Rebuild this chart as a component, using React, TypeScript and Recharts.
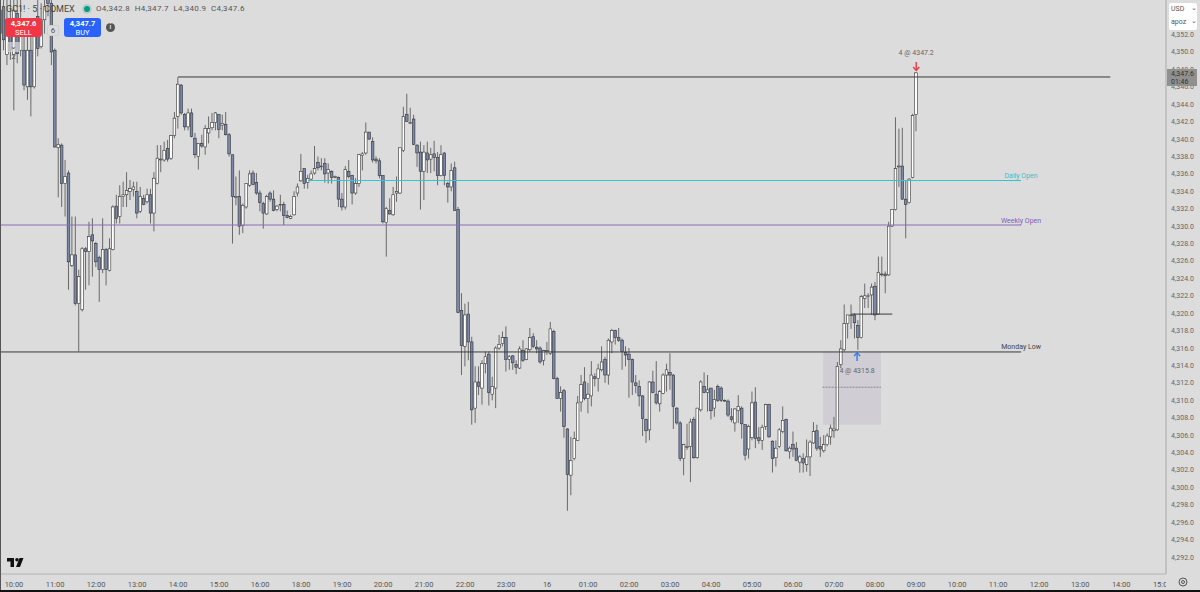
import React from "react";
import { ComposedChart, Bar, XAxis, YAxis, ReferenceLine, ReferenceArea, ReferenceDot } from "recharts";

const opens = [
4352.1,4355.2,4349.7,4353.7,4349.7,4354.4,4350.2,4350.2,4346.0,4350.2,
4346.0,4354.1,4350.6,4353.7,4356.2,4355.6,4350.2,4339.0,4339.3,4334.9,
4336.1,4325.5,4326.7,4321.1,4320.4,4327.4,4327.1,4329.0,4328.0,4326.4,
4325.0,4327.3,4324.9,4327.3,4332.3,4331.1,4333.4,4333.6,4334.0,4334.2,
4334.0,4331.7,4333.2,4332.8,4333.6,4331.5,4334.9,4337.6,4337.6,4338.9,
4337.8,4340.4,4342.6,4346.2,4342.8,4341.4,4343.0,4340.1,4338.0,4339.5,
4339.1,4340.7,4341.3,4341.9,4342.8,4341.6,4341.7,4340.5,4338.2,4333.3,
4333.4,4330.1,4332.2,4334.7,4336.1,4335.0,4333.8,4332.6,4331.4,4333.8,
4333.1,4331.9,4332.5,4332.5,4331.2,4330.9,4331.3,4333.8,4335.2,4336.6,
4335.0,4335.4,4336.1,4337.3,4336.9,4337.2,4336.1,4336.3,4335.7,4335.6,
4333.1,4332.2,4336.3,4335.8,4333.8,4334.9,4338.1,4338.4,4340.8,4339.7,
4337.7,4337.5,4335.8,4330.4,4331.8,4331.3,4333.8,4333.8,4338.7,4342.8,
4341.9,4342.3,4339.3,4338.5,4336.3,4338.4,4337.7,4338.3,4337.9,4335.8,
4338.4,4334.9,4334.5,4336.7,4331.9,4320.3,4316.2,4319.9,4316.7,4309.1,
4312.1,4311.4,4314.2,4315.3,4310.7,4311.4,4316.0,4316.5,4317.2,4314.7,
4315.1,4314.1,4313.7,4315.7,4314.7,4315.8,4317.3,4316.1,4316.0,4314.6,
4315.7,4315.4,4317.9,4312.5,4310.2,4311.1,4306.7,4301.4,4303.3,4305.4,
4309.8,4312.1,4310.2,4310.5,4312.7,4312.5,4313.5,4314.7,4312.9,4316.7,
4318.0,4317.2,4316.9,4315.5,4315.3,4314.7,4312.0,4311.6,4310.5,4307.8,
4306.6,4312.1,4310.7,4309.6,4310.8,4312.9,4313.2,4312.9,4309.1,4307.4,
4303.3,4304.6,4304.7,4307.8,4303.4,4308.9,4311.6,4310.9,4311.4,4309.1,
4311.6,4311.4,4310.0,4309.9,4308.1,4307.4,4308.8,4309.1,4307.2,4304.4,
4305.7,4309.8,4305.7,4305.4,4307.0,4309.5,4305.3,4303.4,4304.7,4306.4,
4307.8,4304.1,4304.9,4304.5,4302.9,4303.3,4302.6,4303.5,4305.1,4306.5,
4304.7,4304.2,4304.9,4305.8,4306.5,4306.6,4314.1,4315.8,4318.8,4319.8,
4319.8,4318.6,4317.2,4321.7,4322.0,4322.1,4323.1,4319.9,4324.5,4324.5,
4324.4,4330.0,4331.9,4336.8,4336.9,4333.1,4332.7,4335.6,4342.8];

const highs = [
4356.5,4357.0,4356.4,4356.8,4357.0,4356.0,4356.0,4353.7,4353.0,4352.1,
4353.7,4356.0,4355.6,4356.5,4357.5,4356.2,4350.4,4340.1,4339.5,4337.6,
4336.4,4331.1,4331.1,4325.0,4327.6,4327.6,4330.5,4330.9,4328.2,4326.6,
4330.9,4327.5,4328.6,4332.4,4333.6,4334.7,4335.1,4336.2,4335.3,4335.1,
4335.1,4334.5,4333.6,4334.3,4334.3,4336.2,4339.3,4339.3,4339.7,4339.9,
4340.5,4343.1,4347.1,4346.3,4343.0,4343.5,4343.5,4340.7,4339.5,4340.5,
4341.6,4342.6,4343.0,4343.1,4342.8,4342.8,4343.1,4340.7,4338.2,4335.7,
4336.4,4332.6,4334.9,4336.4,4336.4,4336.1,4334.1,4332.8,4333.6,4334.0,
4334.1,4332.4,4333.6,4332.8,4331.8,4331.3,4334.0,4334.9,4338.3,4336.6,
4335.9,4336.4,4339.2,4338.0,4337.8,4337.8,4337.2,4336.4,4335.8,4335.7,
4333.8,4336.9,4337.6,4335.9,4335.5,4338.3,4338.5,4341.9,4340.8,4340.2,
4338.0,4337.8,4335.8,4332.2,4333.2,4334.5,4335.7,4339.0,4343.7,4345.2,
4343.6,4342.8,4339.4,4339.7,4339.3,4339.7,4339.0,4339.8,4338.5,4339.3,
4338.5,4335.1,4337.2,4337.4,4332.2,4322.3,4321.1,4321.3,4317.3,4313.9,
4313.9,4314.6,4315.6,4315.6,4312.7,4316.2,4317.5,4317.9,4318.5,4315.2,
4315.2,4314.6,4316.2,4316.9,4316.0,4318.3,4317.7,4316.9,4316.2,4315.8,
4316.7,4319.0,4318.1,4312.7,4311.6,4311.3,4306.8,4305.8,4306.4,4310.5,
4312.9,4313.8,4312.0,4314.5,4313.1,4314.2,4316.2,4315.0,4317.1,4318.2,
4318.1,4318.3,4317.1,4316.2,4316.0,4314.8,4312.9,4312.3,4310.6,4307.9,
4312.2,4313.4,4314.5,4311.2,4313.1,4314.2,4315.4,4313.0,4309.2,4307.6,
4305.0,4307.3,4307.9,4308.1,4309.1,4312.3,4313.2,4312.9,4311.4,4311.2,
4311.8,4311.6,4310.1,4310.1,4309.1,4309.1,4310.6,4309.3,4307.2,4307.2,
4311.0,4311.5,4306.9,4307.2,4309.6,4309.6,4305.4,4305.4,4306.8,4309.3,
4307.9,4304.7,4306.4,4305.2,4303.7,4303.9,4305.5,4305.4,4307.5,4307.2,
4305.8,4306.0,4306.2,4307.2,4308.1,4314.4,4316.9,4321.0,4319.8,4321.0,
4320.0,4319.2,4322.1,4323.4,4322.3,4323.4,4323.6,4326.5,4326.5,4324.8,
4330.5,4331.9,4342.5,4341.2,4341.3,4335.3,4335.5,4342.9,4347.7];

const lows = [
4351.0,4350.2,4348.5,4349.1,4343.3,4348.7,4349.5,4345.6,4344.5,4342.6,
4345.8,4349.5,4350.4,4352.1,4354.1,4348.5,4339.0,4333.3,4332.2,4331.1,
4322.7,4325.3,4320.9,4315.6,4320.2,4322.7,4323.2,4324.2,4325.3,4321.3,
4324.6,4323.2,4324.8,4327.2,4330.3,4330.3,4332.2,4332.2,4333.0,4333.4,
4330.9,4331.5,4332.4,4332.6,4330.3,4329.4,4334.8,4336.2,4337.4,4337.4,
4337.6,4340.1,4341.2,4342.8,4341.0,4341.0,4340.2,4337.8,4336.5,4339.0,
4338.2,4339.5,4341.0,4341.0,4340.1,4341.0,4340.4,4338.0,4328.0,4332.4,
4329.0,4329.2,4332.0,4334.5,4334.7,4333.6,4331.7,4329.7,4331.3,4332.8,
4331.7,4331.7,4331.7,4330.1,4330.9,4330.8,4331.2,4333.4,4335.1,4334.3,
4334.3,4335.3,4335.9,4336.4,4336.4,4335.0,4334.9,4334.9,4335.5,4332.2,
4331.8,4331.9,4335.5,4332.5,4333.6,4334.5,4336.4,4338.2,4339.9,4337.3,
4337.2,4335.5,4330.3,4326.5,4331.3,4331.2,4332.8,4333.7,4338.5,4342.0,
4341.8,4339.3,4336.8,4331.9,4333.0,4336.1,4336.1,4336.3,4334.7,4335.7,
4334.7,4332.7,4334.0,4331.8,4320.0,4312.9,4313.9,4314.6,4307.2,4307.4,
4310.6,4309.5,4313.1,4309.4,4310.0,4309.1,4315.8,4316.2,4313.3,4313.5,
4313.5,4313.0,4313.6,4314.4,4314.6,4315.6,4316.0,4315.4,4314.2,4314.0,
4315.2,4315.2,4312.4,4310.2,4308.7,4305.7,4297.3,4299.1,4303.1,4305.4,
4308.7,4310.0,4308.5,4309.3,4311.6,4311.0,4313.3,4312.0,4311.8,4315.4,
4316.4,4316.7,4313.5,4313.9,4310.3,4310.6,4310.8,4309.3,4305.9,4305.1,
4305.4,4310.8,4309.5,4308.7,4310.7,4311.0,4311.2,4306.7,4307.2,4303.0,
4301.4,4304.3,4300.6,4303.3,4303.3,4308.7,4310.8,4308.7,4307.8,4308.1,
4309.8,4309.8,4309.8,4308.1,4307.5,4306.4,4307.4,4305.6,4303.1,4303.3,
4305.4,4304.5,4305.0,4304.3,4306.6,4305.7,4301.7,4302.4,4304.5,4306.2,
4304.1,4303.3,4303.5,4303.0,4301.7,4301.7,4301.8,4301.3,4305.0,4304.2,
4303.5,4304.0,4304.7,4304.9,4305.7,4306.5,4313.7,4315.6,4317.1,4318.2,
4317.1,4315.8,4317.1,4320.6,4320.6,4319.8,4319.2,4319.8,4324.2,4322.3,
4324.3,4329.9,4331.8,4334.5,4333.0,4328.6,4332.6,4335.5,4340.9];

const closes = [
4354.8,4351.4,4353.7,4350.2,4354.8,4349.8,4353.7,4346.2,4350.2,4346.0,
4352.9,4350.4,4353.7,4355.2,4355.6,4350.0,4339.1,4339.4,4334.9,4335.7,
4325.9,4326.7,4321.1,4324.2,4327.4,4327.1,4328.8,4328.3,4325.9,4325.0,
4327.3,4325.0,4327.4,4332.2,4330.9,4333.4,4333.6,4334.1,4334.3,4334.5,
4331.5,4333.4,4332.5,4333.6,4331.5,4335.5,4337.8,4337.7,4338.7,4337.7,
4340.4,4342.4,4346.3,4343.0,4341.4,4343.0,4340.3,4338.2,4339.5,4339.2,
4341.2,4341.2,4341.9,4343.0,4341.1,4341.8,4340.5,4338.3,4333.4,4333.4,
4330.0,4332.4,4334.9,4336.0,4334.8,4333.8,4332.7,4331.5,4333.4,4333.1,
4331.8,4332.3,4332.5,4331.2,4331.0,4331.1,4333.4,4334.5,4336.3,4334.9,
4335.5,4336.0,4336.6,4336.7,4336.9,4336.0,4336.5,4335.6,4335.7,4333.1,
4332.2,4336.5,4335.7,4333.8,4334.9,4338.2,4338.3,4340.8,4340.0,4337.6,
4337.5,4335.8,4330.5,4332.0,4331.4,4333.6,4334.0,4339.0,4342.6,4342.0,
4341.9,4339.4,4338.4,4336.3,4338.5,4337.6,4338.2,4337.9,4335.8,4338.2,
4335.8,4334.5,4336.4,4331.8,4320.1,4316.3,4319.8,4316.7,4308.9,4312.1,
4311.6,4314.2,4315.0,4310.9,4311.6,4316.0,4316.4,4317.2,4314.7,4315.0,
4314.3,4313.8,4315.9,4314.6,4315.9,4317.2,4316.2,4315.9,4314.4,4315.7,
4315.7,4318.2,4312.5,4310.2,4310.9,4307.0,4301.5,4303.1,4305.6,4309.7,
4311.8,4310.2,4310.7,4312.9,4312.5,4313.6,4314.4,4312.9,4316.9,4318.0,
4317.2,4316.9,4315.6,4315.2,4314.7,4312.1,4311.7,4310.5,4307.9,4306.5,
4312.1,4310.9,4309.7,4311.0,4312.9,4313.5,4312.9,4309.3,4307.4,4303.3,
4304.9,4304.7,4307.5,4303.4,4309.1,4312.1,4310.9,4311.2,4308.8,4310.1,
4310.0,4310.0,4310.0,4308.3,4307.8,4309.0,4309.3,4307.3,4303.7,4307.0,
4309.7,4305.6,4305.4,4306.9,4309.5,4305.8,4303.3,4304.5,4306.6,4307.7,
4304.2,4304.5,4304.4,4303.1,4303.5,4302.8,4303.5,4305.2,4306.4,4304.5,
4304.4,4304.9,4305.9,4306.8,4306.7,4313.9,4315.9,4318.8,4319.8,4319.8,
4318.9,4317.2,4321.9,4322.0,4322.0,4323.0,4319.8,4324.7,4324.5,4324.3,
4330.0,4331.9,4336.6,4336.9,4333.1,4332.5,4335.4,4342.7,4347.6];

const timeLabels = ["10:00","11:00","12:00","13:00","14:00","15:00","16:00","18:00","19:00","20:00","21:00","22:00","23:00","16","01:00","02:00","03:00","04:00","05:00","06:00","07:00","08:00","09:00","10:00","11:00","12:00","13:00","14:00","15:00"];
const BARS_PER_LABEL = 12;
const timeTicks = timeLabels.map((_, i) => i * BARS_PER_LABEL);
const priceTicks = [4292,4294,4296,4298,4300,4302,4304,4306,4308,4310,4312,4314,4316,4318,4320,4322,4324,4326,4328,4330,4332,4334,4336,4338,4340,4342,4344,4346,4348,4350,4352];

const candles = opens.map((open, i) => ({ t: i - 4, open, high: highs[i], low: lows[i], close: closes[i], range: [lows[i], highs[i]] }));

const fmt = (v: number) => v.toLocaleString("en-US", { minimumFractionDigits: 1, maximumFractionDigits: 1 });
const FONT = "Roboto, 'Open Sans', sans-serif";

const Candle = (props: any) => {
  const { x, y, width, height, payload } = props;
  const top = Math.min(y, y + height);
  const h = Math.abs(height);
  const span = payload.high - payload.low || 1;
  const yOf = (p: number) => top + ((payload.high - p) / span) * h;
  const cx = x + width / 2;
  const up = payload.close >= payload.open;
  const by = yOf(Math.max(payload.open, payload.close));
  const bh = Math.max(Math.abs(yOf(payload.open) - yOf(payload.close)), 0.8);
  return (
    <g>
      <line x1={cx} x2={cx} y1={top} y2={top + h} stroke="#5c5c5c" strokeWidth={0.9} />
      <rect x={cx - 1.3} y={by} width={2.6} height={bh} fill={up ? "#ffffff" : "#7a88ab"} stroke="#333" strokeWidth={0.6} />
    </g>
  );
};

const XTick = (props: any) => {
  const { x, y, payload, index } = props;
  return (
    <g>
      <clipPath id={`xc${index}`}><rect x={0} y={570} width={1166} height={22} /></clipPath>
      <text x={x} y={y} textAnchor="middle" dominantBaseline="central" fontSize={7.5} fontFamily={FONT} fill="#555" clipPath={`url(#xc${index})`}>
        {timeLabels[payload.index ?? index]}
      </text>
    </g>
  );
};

const Note = (text: string, dy: number, fill: string) => (props: any) => (
  <text x={props.cx} y={props.cy + dy} textAnchor="middle" dominantBaseline="central" fontSize={7} fontFamily={FONT} fill={fill}>{text}</text>
);

const Arrow = (color: string, dir: 1 | -1) => (props: any) => {
  const { cx, cy } = props;
  return (
    <g stroke={color} strokeWidth={1.4} fill="none">
      <line x1={cx} x2={cx} y1={cy} y2={cy + dir * 8} />
      <polyline points={`${cx - 3},${cy + dir * 5} ${cx},${cy + dir * 8.5} ${cx + 3},${cy + dir * 5}`} />
    </g>
  );
};

const hl = (x1: number, x2: number, y: number) => [{ x: x1, y }, { x: x2, y }] as any;

export default function App() {
  return (
    <div style={{ position: "absolute", left: 0, top: 0, width: 1200, height: 592, background: "#dcdcdc", overflow: "hidden", fontFamily: FONT }}>
      <ComposedChart width={1200} height={592} data={candles} margin={{ top: 0, right: 0, bottom: 0, left: 0 }} barSize={3}>
        <XAxis dataKey="t" type="number" scale="linear" domain={[-4.1, 337.1]} ticks={timeTicks} interval={0} allowDataOverflow height={18} stroke="#b4b4b4" tickLine={false} tick={<XTick />} tickMargin={4} />
        <YAxis orientation="right" type="number" domain={[4290.05, 4355.97]} ticks={priceTicks} interval={0} allowDataOverflow width={34} stroke="#a8a8a8" tickLine={false} tickSize={0} tickMargin={5} tickFormatter={fmt} tick={{ fontSize: 7, fill: "#666", fontFamily: FONT }} />
        <ReferenceArea x1={236.8} x2={253.7} y1={4307.2} y2={4315.6} fill="#9a8fb4" fillOpacity={0.18} stroke="none" ifOverflow="visible" />
        <ReferenceLine segment={hl(236.6, 253.7, 4311.5)} stroke="#888" strokeDasharray="2 1" />
        <ReferenceLine segment={hl(-4.1, 294.7, 4315.55)} stroke="#3a3a3a" strokeWidth={1} />
        <ReferenceLine segment={hl(-4.1, 294.7, 4330.13)} stroke="#8a6cc0" strokeWidth={1} />
        <ReferenceLine segment={hl(86, 294.7, 4335.24)} stroke="#35c4d4" strokeWidth={1} />
        <ReferenceLine segment={hl(48, 320.8, 4347.13)} stroke="#3a3a3a" strokeWidth={1} />
        <ReferenceLine segment={hl(245, 257, 4319.9)} stroke="#3a3a3a" strokeWidth={1} />
        <Bar dataKey="range" shape={<Candle />} isAnimationActive={false} />
        <ReferenceDot x={264} y={4350} r={0} ifOverflow="visible" shape={Note("4 @ 4347.2", 1, "#666")} />
        <ReferenceDot x={264} y={4348.85} r={0} ifOverflow="visible" shape={Arrow("#f23645", 1)} />
        <ReferenceDot x={246.7} y={4314.5} r={0} ifOverflow="visible" shape={Arrow("#2e7bf0", -1)} />
        <ReferenceDot x={246.7} y={4313.35} r={0} ifOverflow="visible" shape={Note("4 @ 4315.8", 0, "#666")} />
        <ReferenceDot x={294.7} y={4335.24} r={0} ifOverflow="visible" shape={Note("Daily Open", -4.5, "#3cbccd")} />
        <ReferenceDot x={294.7} y={4330.13} r={0} ifOverflow="visible" shape={Note("Weekly Open", -4.5, "#7d5cc0")} />
        <ReferenceDot x={294.7} y={4315.55} r={0} ifOverflow="visible" shape={Note("Monday Low", -4.5, "#444")} />
      </ComposedChart>

      <div style={{ position: "absolute", left: 0, top: 0, width: 1, height: 590, background: "#555" }} />
      <div style={{ position: "absolute", left: 0, top: 590, width: 1200, height: 2, background: "#111" }} />

      <div style={{ position: "absolute", left: 6, top: 4, fontSize: 9, color: "#444", whiteSpace: "nowrap" }}>GC1! · 5 · COMEX</div>
      <div style={{ position: "absolute", left: 84, top: 6, width: 6, height: 6, borderRadius: 3, background: "#089981", boxShadow: "0 0 0 2px rgba(8,153,129,.18)" }} />
      <div style={{ position: "absolute", left: 96, top: 4, fontSize: 8, color: "#555", letterSpacing: 0.3, whiteSpace: "nowrap" }}>O4,342.8&nbsp; H4,347.7&nbsp; L4,340.9&nbsp; C4,347.6</div>
      <div style={{ position: "absolute", left: 5, top: 18, width: 37, height: 19, borderRadius: 3, background: "#f23645", color: "#fff", textAlign: "center", fontSize: 7.5, lineHeight: "9px", paddingTop: 1, boxSizing: "border-box" }}><b>4,347.6</b><br />SELL</div>
      <div style={{ position: "absolute", left: 47, top: 25, width: 12, height: 11, borderRadius: 2, border: "1px solid #cfcfcf", boxSizing: "border-box", background: "#dcdcdc", color: "#555", textAlign: "center", fontSize: 8, lineHeight: "10px" }}>6</div>
      <div style={{ position: "absolute", left: 64, top: 18, width: 37, height: 19, borderRadius: 3, background: "#2962ff", color: "#fff", textAlign: "center", fontSize: 7.5, lineHeight: "9px", paddingTop: 1, boxSizing: "border-box" }}><b>4,347.7</b><br />BUY</div>
      <div style={{ position: "absolute", left: 106, top: 23, width: 9, height: 9, borderRadius: 5, background: "#555", color: "#ddd", textAlign: "center", fontSize: 7, lineHeight: "9px", fontWeight: 700 }}>i</div>
      <div style={{ position: "absolute", left: 7, top: 42, width: 13, height: 10, background: "rgba(220,220,220,.7)", color: "#555", fontSize: 8, lineHeight: "10px", textAlign: "center" }}>⌄ 2</div>

      <div style={{ position: "absolute", left: 1169, top: 3, width: 28, height: 27, background: "#fff", borderRadius: 2, color: "#555", fontSize: 7 }}>
        <div style={{ position: "absolute", left: 2, top: 2 }}>USD</div>
        <div style={{ position: "absolute", left: 2, top: 15 }}>apoz</div>
        <div style={{ position: "absolute", left: 22, top: 1 }}>⌄</div>
        <div style={{ position: "absolute", left: 22, top: 14 }}>⌄</div>
      </div>
      <div style={{ position: "absolute", left: 1167, top: 69, width: 30, height: 17, background: "#909090", color: "#333", fontSize: 7, lineHeight: "8px", paddingLeft: 4, paddingTop: 1, boxSizing: "border-box" }}>4,347.6<br />01:46</div>

      <svg style={{ position: "absolute", left: 6, top: 557 }} width={20} height={11}>
        <path d="M1 1H8V10H4.5V4.5H1Z M17.5 1L14 10H10L13.5 1Z" fill="#111" />
        <circle cx={11} cy={2.8} r={1.8} fill="#111" />
      </svg>
      <svg style={{ position: "absolute", left: 1178, top: 577 }} width={10} height={10} fill="none" stroke="#555" strokeWidth={1}>
        <circle cx={5} cy={5} r={4} />
        <circle cx={5} cy={5} r={1.5} />
      </svg>
    </div>
  );
}
